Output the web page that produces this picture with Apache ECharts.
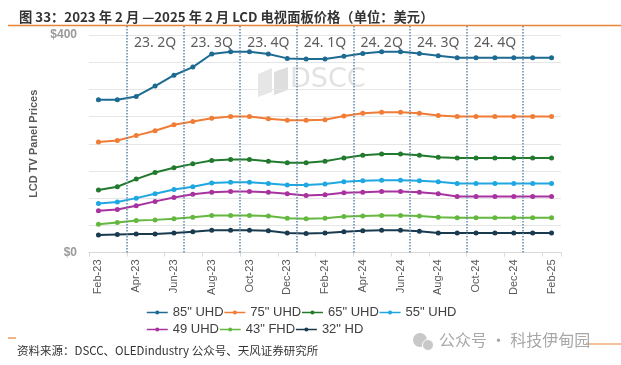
<!DOCTYPE html>
<html>
<head>
<meta charset="utf-8">
<script src="https://cdn.jsdelivr.net/npm/echarts@6/dist/echarts.min.js"></script>
<style>
html,body{margin:0;padding:0;background:#fff;}
#c{width:621px;height:365px;}
</style>
</head>
<body>
<div id="c"></div>
<script>
var categories = ['Feb-23','Mar-23','Apr-23','May-23','Jun-23','Jul-23','Aug-23','Sep-23','Oct-23','Nov-23','Dec-23','Jan-24','Feb-24','Mar-24','Apr-24','May-24','Jun-24','Jul-24','Aug-24','Sep-24','Oct-24','Nov-24','Dec-24','Jan-25','Feb-25'];
var s85 = [281,281,287,306,326,341,365,369,369,365,357,356,356,361,366,369,369,366,362,358,358,358,358,358,358];
var s75 = [203,206,215,224,235,241,247,250,250,246,243,243,244,251,256,258,258,256,252,250,250,250,250,250,250];
var s65 = [115,121,135,147,156,163,169,171,171,168,165,165,168,174,179,181,181,179,175,174,174,174,174,174,174];
var s55 = [90,93,100,108,116,121,128,129,129,127,124,124,126,130,132,133,133,132,130,127,127,127,127,127,127];
var s49 = [77,79,86,94,101,107,111,112,112,111,108,105,106,110,111,112,112,111,108,103,103,103,103,103,103];
var s43 = [52,55,59,60,62,65,68,68,68,67,63,62,63,66,67,68,68,67,65,64,64,64,64,64,64];
var s32 = [32,33,34,34,36,38,41,41,41,40,36,35,36,38,40,41,41,39,36,36,36,36,36,36,36];
var seriesNames = ['85" UHD','75" UHD','65" UHD','55" UHD','49 UHD','43" FHD','32" HD'];
var quarterLabels = ['23. 2Q','23. 3Q','23. 4Q','24. 1Q','24. 2Q','24. 3Q','24. 4Q'];
var yTickLabels = [0, 400];

var seriesData = [s85, s75, s65, s55, s49, s43, s32];
var colors = ['#1d6a93','#f07c36','#217a2d','#1fa7e1','#a8329f','#64b83f','#1a3b4f'];

// quarter boundaries: before Jan/Apr/Jul/Oct
var boundaries = [];
categories.forEach(function(c, i){
  var m = c.slice(0,3);
  if (i > 0 && (m === 'Jan' || m === 'Apr' || m === 'Jul' || m === 'Oct')) boundaries.push(i - 0.5);
});
var labelData = quarterLabels.map(function(t, i){
  return [(boundaries[i] + boundaries[i+1]) / 2, 0.927, t];
});

var chart = echarts.init(document.getElementById('c'), null, {renderer:'canvas'});

var series = seriesData.map(function(d, i){
  return {
    name: seriesNames[i], type: 'line', data: d,
    xAxisIndex: 0, yAxisIndex: 0,
    symbol: 'circle', symbolSize: 5, showSymbol: true,
    lineStyle: {width: 2, color: colors[i]},
    itemStyle: {color: colors[i]},
    z: 3
  };
});
series.push({
  type: 'scatter', xAxisIndex: 1, yAxisIndex: 1,
  data: labelData, symbolSize: 0, silent: true,
  label: {show: true, position: 'inside', formatter: function(p){return p.data[2];},
          color: '#333', fontSize: 14, fontFamily: 'Noto Sans'},
  markLine: {
    silent: true, symbol: 'none', animation: false,
    label: {show: false},
    lineStyle: {color: '#5f88a8', type: [1.5, 1.5], width: 1.5},
    data: boundaries.map(function(b){ return {xAxis: b}; })
  },
  z: 2
});

var legendText = {fontSize: 13, color: '#404040', fontFamily: 'Liberation Sans',
  rich: {a: {width: 50, fontSize: 13, color: '#404040', fontFamily: 'Liberation Sans'}}};

var option = {
  animation: false,
  backgroundColor: '#fff',
  color: colors,
  title: {
    text: '图 33：2023 年 2 月 —2025 年 2 月 LCD 电视面板价格（单位：美元）',
    left: 14, top: 5,
    textStyle: {fontSize: 13.3, fontWeight: 'bold', color: '#333', fontFamily: 'Noto Sans CJK SC'}
  },
  legend: [
    {data: seriesNames.slice(0,4), left: 146, top: 306, itemWidth: 21, itemHeight: 5, itemGap: 0,
     lineStyle: {width: 1.5}, formatter: '{a|{name}}', textStyle: legendText, padding: 0},
    {data: seriesNames.slice(4), left: 146, top: 323, itemWidth: 21, itemHeight: 5, itemGap: 0,
     lineStyle: {width: 1.5}, formatter: '{a|{name}}', textStyle: legendText, padding: 0}
  ],
  grid: [
    {left: 89, right: 60, top: 35, bottom: 112.5, containLabel: false},
    {left: 89, right: 60, top: 26, bottom: 112.5, containLabel: false}
  ],
  xAxis: [
    {type: 'category', data: categories, gridIndex: 0, boundaryGap: true,
     axisLine: {show: true, lineStyle: {color: '#d9d9d9'}},
     axisTick: {show: true, interval: 1, length: 4, lineStyle: {color: '#d9d9d9'}},
     axisLabel: {interval: 1, rotate: 90, color: '#595959', fontSize: 11, margin: 7, fontFamily: 'Liberation Sans'},
     splitLine: {show: false}},
    {type: 'value', gridIndex: 1, min: -0.5, max: categories.length - 0.5, show: false}
  ],
  yAxis: [
    {type: 'value', gridIndex: 0, min: 0, max: 400, interval: 50,
     name: 'LCD TV Panel Prices', nameLocation: 'middle', nameGap: 46,
     nameTextStyle: {fontSize: 11, fontWeight: 'bold', color: '#595959', fontFamily: 'Liberation Sans'},
     axisLine: {show: false}, axisTick: {show: false},
     axisLabel: {margin: 12, color: '#999', fontSize: 12, fontWeight: 'bold', fontFamily: 'Liberation Sans',
       formatter: function(v){ return yTickLabels.indexOf(v) >= 0 ? '$' + v : ''; }},
     splitLine: {show: true, lineStyle: {color: '#e6e6e6', width: 1}}},
    {type: 'value', gridIndex: 1, min: 0, max: 1, show: false}
  ],
  graphic: [
    {type: 'line', shape: {x1: 8, y1: 25.5, x2: 621, y2: 25.5}, style: {stroke: '#e8833a', lineWidth: 1.5}, z: 10},
    {type: 'line', shape: {x1: 8, y1: 338, x2: 16, y2: 338}, style: {stroke: '#e8833a', lineWidth: 1.2}},
    {type: 'line', shape: {x1: 586, y1: 344, x2: 621, y2: 344}, style: {stroke: '#e8833a', lineWidth: 1.2}},
    {type: 'text', left: 17, top: 345, style: {text: '资料来源：DSCC、OLEDindustry 公众号、天风证券研究所',
      fontSize: 11.5, fill: '#333', fontFamily: 'Noto Sans CJK SC'}},
    {type: 'circle', shape: {cx: 420, cy: 340, r: 7}, style: {fill: '#c8c8c8'}},
    {type: 'circle', shape: {cx: 428, cy: 345, r: 5.5}, style: {fill: '#c8c8c8', stroke: '#fff', lineWidth: 1}},
    {type: 'text', left: 439, top: 332, style: {text: '公众号 · 科技伊甸园', fontSize: 16, fill: '#a8a8a8', fontFamily: 'Noto Sans CJK SC'}},
    {type: 'polygon', shape: {points: [[258,74],[272,68],[272,92],[258,97]]}, style: {fill: '#e6e6e6'}, z: 0},
    {type: 'polygon', shape: {points: [[274,72],[288,67],[288,90],[274,95]]}, style: {fill: '#dedede'}, z: 0},
    {type: 'text', left: 290, top: 66, style: {text: 'DSCC', fontSize: 27, fill: '#e2e2e2', fontFamily: 'DejaVu Sans'}, z: 0}
  ],
  series: series
};
chart.setOption(option);
</script>
</body>
</html>
